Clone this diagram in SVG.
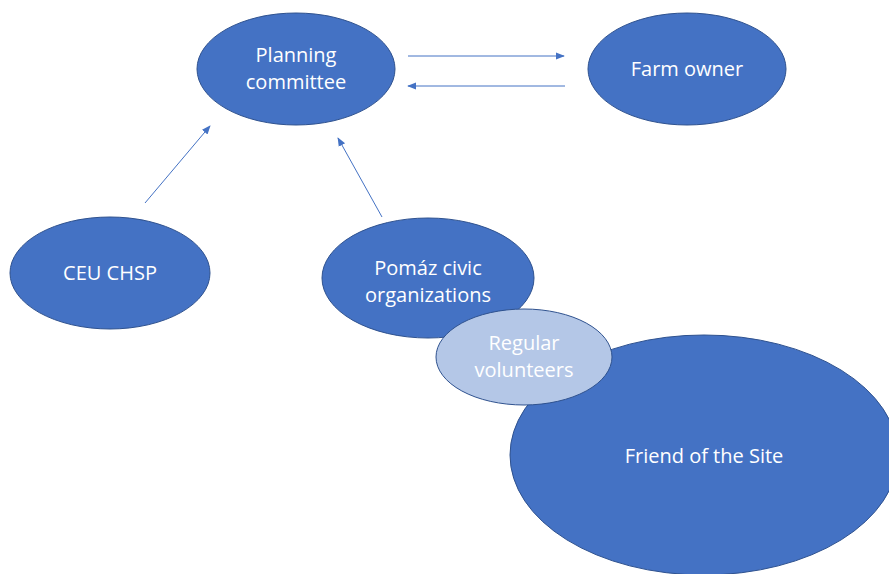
<svg xmlns="http://www.w3.org/2000/svg" width="889" height="574" viewBox="0 0 889 574">
  <style>
    .node { fill: #4472C4; stroke: #2F528F; stroke-width: 1; }
    .light { fill: #B4C7E7; stroke: #2F528F; stroke-width: 1; }
    .label { font-family: "Open Sans", "Liberation Sans", sans-serif; font-size: 20px; fill: #FFFFFF; text-anchor: middle; }
    .edge { stroke: #4472C4; stroke-width: 1; fill: none; marker-end: url(#arrow); }
  </style>
  <defs>
    <marker id="arrow" viewBox="0 0 10 10" refX="9" refY="5" markerWidth="9" markerHeight="9" markerUnits="userSpaceOnUse" orient="auto">
      <path d="M0,1 L10,5 L0,9 Z" fill="#4472C4"/>
    </marker>
  </defs>
  <rect width="889" height="574" fill="#FFFFFF"/>

  <g id="connectors">
    <line class="edge" x1="408" y1="56" x2="564" y2="56"/>
    <line class="edge" x1="565" y1="86" x2="408" y2="86"/>
    <line class="edge" x1="145" y1="203" x2="210" y2="126"/>
    <line class="edge" x1="382" y1="217" x2="338" y2="138"/>
  </g>

  <g id="planning-committee">
    <ellipse class="node" cx="296" cy="69" rx="99" ry="56"/>
    <text class="label" x="296" y="62">Planning</text>
    <text class="label" x="296" y="89">committee</text>
  </g>

  <g id="farm-owner">
    <ellipse class="node" cx="687" cy="69" rx="99" ry="56"/>
    <text class="label" x="687" y="76">Farm owner</text>
  </g>

  <g id="ceu-chsp">
    <ellipse class="node" cx="110" cy="273" rx="100" ry="56"/>
    <text class="label" x="110" y="280">CEU CHSP</text>
  </g>

  <g id="pomaz-civic-organizations">
    <ellipse class="node" cx="428" cy="278" rx="106" ry="60"/>
    <text class="label" x="428" y="275">Pomáz civic</text>
    <text class="label" x="428" y="302">organizations</text>
  </g>

  <g id="friend-of-the-site">
    <ellipse class="node" cx="704" cy="455" rx="194" ry="120"/>
    <text class="label" x="704" y="463">Friend of the Site</text>
  </g>

  <g id="regular-volunteers">
    <ellipse class="light" cx="524" cy="357" rx="88" ry="48"/>
    <text class="label" x="524" y="350">Regular</text>
    <text class="label" x="524" y="377">volunteers</text>
  </g>
</svg>
